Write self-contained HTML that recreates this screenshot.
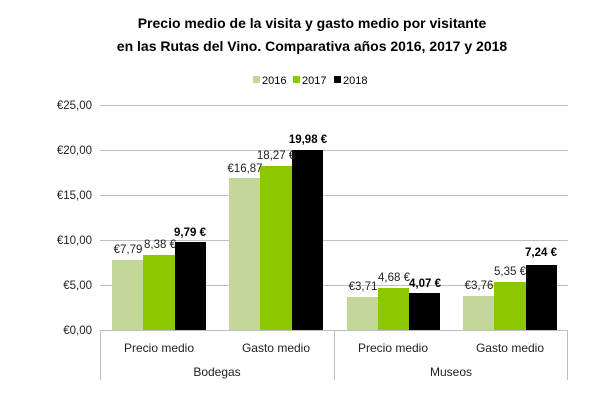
<!DOCTYPE html>
<html><head><meta charset="utf-8"><style>body{margin:0;background:#fff}</style></head><body>
<svg width="600" height="400" xmlns="http://www.w3.org/2000/svg" font-family="Liberation Sans, sans-serif">
<rect width="600" height="400" fill="#fff"/>
<text x="312" y="28" text-anchor="middle" font-size="14" font-weight="bold">Precio medio de la visita y gasto medio por visitante</text>
<text x="312" y="51" text-anchor="middle" font-size="14" font-weight="bold">en las Rutas del Vino. Comparativa años 2016, 2017 y 2018</text>
<g font-size="11">
<rect x="253" y="76" width="7" height="7" fill="#c4d79b"/><text x="262" y="84">2016</text>
<rect x="293" y="76" width="7" height="7" fill="#92d050" style="fill:#8cc800"/><text x="302" y="84">2017</text>
<rect x="334" y="76" width="7" height="7" fill="#000"/><text x="343" y="84">2018</text>
</g>
<g stroke="#bfbfbf" stroke-width="1">
<line x1="100" y1="105.5" x2="568" y2="105.5"/><line x1="100" y1="150.5" x2="568" y2="150.5"/>
<line x1="100" y1="195.5" x2="568" y2="195.5"/><line x1="100" y1="240.5" x2="568" y2="240.5"/>
<line x1="100" y1="285.5" x2="568" y2="285.5"/><line x1="100" y1="330.5" x2="568" y2="330.5"/>
<line x1="100.5" y1="330" x2="100.5" y2="380"/><line x1="334.5" y1="330" x2="334.5" y2="380"/><line x1="567.5" y1="330" x2="567.5" y2="380"/>
</g>
<g font-size="11.5" text-anchor="end" fill="#222">
<text x="92" y="109">€25,00</text><text x="92" y="154">€20,00</text><text x="92" y="199">€15,00</text>
<text x="92" y="244">€10,00</text><text x="92" y="289">€5,00</text><text x="92" y="334">€0,00</text>
</g>
<g>
<rect x="112" y="260" width="31" height="70" fill="#c4d79b"/><rect x="143" y="255" width="32" height="75" fill="#8cc800"/><rect x="175" y="242" width="31" height="88" fill="#000"/>
<rect x="229" y="178" width="31" height="152" fill="#c4d79b"/><rect x="260" y="166" width="32" height="164" fill="#8cc800"/><rect x="292" y="150" width="31" height="180" fill="#000"/>
<rect x="347" y="297" width="31" height="33" fill="#c4d79b"/><rect x="378" y="288" width="31" height="42" fill="#8cc800"/><rect x="409" y="293" width="31" height="37" fill="#000"/>
<rect x="463" y="296" width="31" height="34" fill="#c4d79b"/><rect x="494" y="282" width="32" height="48" fill="#8cc800"/><rect x="526" y="265" width="31" height="65" fill="#000"/>
</g>
<g font-size="11.5" text-anchor="middle" fill="#222">
<text x="128" y="253">€7,79</text><text x="160" y="248">8,38 €</text><text x="190" y="236" font-weight="bold" fill="#000">9,79 €</text>
<text x="245" y="172">€16,87</text><text x="276" y="159">18,27 €</text><text x="308" y="143" font-weight="bold" fill="#000">19,98 €</text>
<text x="363" y="290">€3,71</text><text x="394" y="281">4,68 €</text><text x="425" y="287" font-weight="bold" fill="#000">4,07 €</text>
<text x="479" y="289">€3,76</text><text x="510" y="275">5,35 €</text><text x="541" y="256" font-weight="bold" fill="#000">7,24 €</text>
</g>
<g font-size="12" text-anchor="middle" fill="#222">
<text x="159" y="352">Precio medio</text><text x="276" y="352">Gasto medio</text>
<text x="393" y="352">Precio medio</text><text x="510" y="352">Gasto medio</text>
<text x="217" y="376">Bodegas</text><text x="451" y="376">Museos</text>
</g>
</svg>
</body></html>
